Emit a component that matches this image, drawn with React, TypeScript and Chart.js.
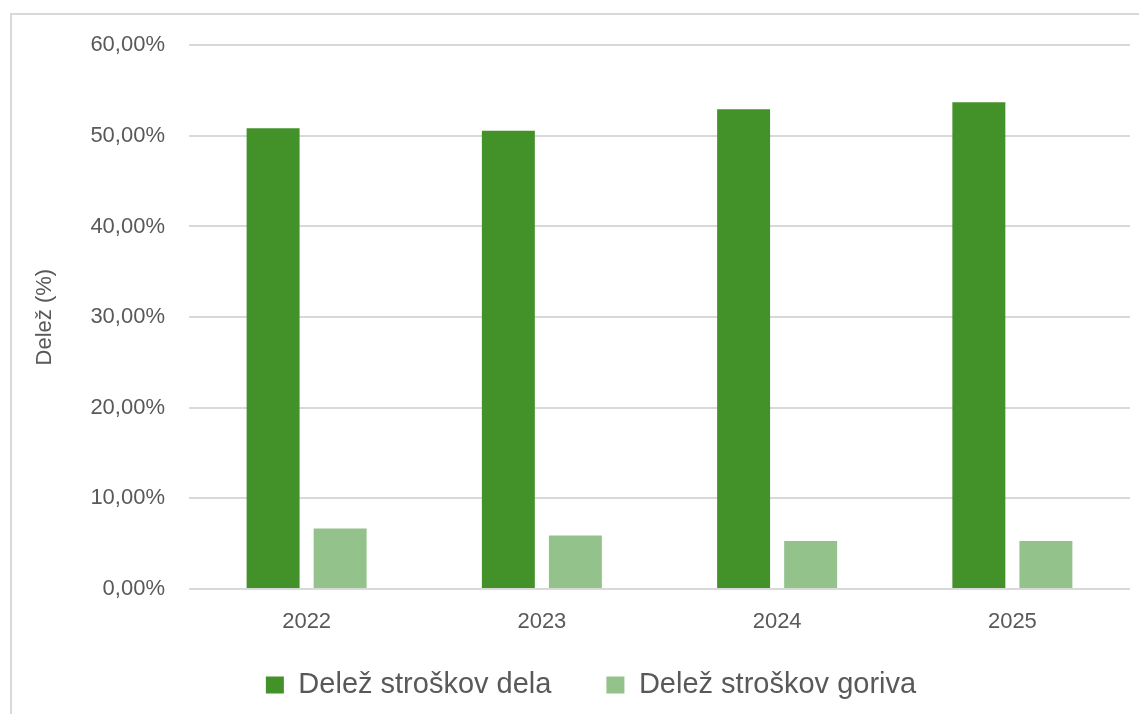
import React, { useEffect, useRef } from "react";
import { Chart, registerables } from "chart.js";

Chart.register(...registerables);

const categories = ["2022", "2023", "2024", "2025"];
const laborShare = [50.84, 50.57, 52.94, 53.71];
const fuelShare = [6.67, 5.9, 5.3, 5.3];
const seriesNames = ["Delež stroškov dela", "Delež stroškov goriva"];
const yTitle = "Delež (%)";

const TEXT = "#595959";
const GRID = "#d9d9d9";
const FONT = "'Liberation Sans', Arial, sans-serif";

export default function App() {
  const ref = useRef<HTMLCanvasElement | null>(null);

  useEffect(() => {
    if (!ref.current) return;
    const chart = new Chart(ref.current, {
      type: "bar",
      data: {
        labels: categories,
        datasets: [
          {
            label: seriesNames[0],
            data: laborShare,
            backgroundColor: "#439129",
            borderWidth: 0,
          },
          {
            label: seriesNames[1],
            data: fuelShare,
            backgroundColor: "#94c28b",
            borderWidth: 0,
          },
        ],
      },
      options: {
        animation: false,
        responsive: false,
        maintainAspectRatio: false,
        layout: { padding: { left: 44, right: 9, top: 37, bottom: 4.5 } },
        datasets: {
          bar: { categoryPercentage: 0.57, barPercentage: 0.79 },
        },
        plugins: {
          tooltip: { enabled: false },
          legend: {
            position: "bottom",
            align: "center",
            title: {
              display: true,
              text: "",
              font: { size: 1, lineHeight: 1 },
              padding: { top: 0, bottom: -21.5 },
            },
            labels: {
              color: TEXT,
              font: { family: FONT, size: 29 },
              boxWidth: 18,
              boxHeight: 17,
              padding: 55,
            },
          },
        },
        scales: {
          x: {
            grid: { display: false, drawTicks: false },
            border: { display: false },
            ticks: {
              color: TEXT,
              font: { family: FONT, size: 22 },
              padding: 20,
            },
            afterFit: (scale: any) => {
              scale.height = 47;
            },
          },
          y: {
            min: 0,
            max: 60,
            grid: { color: GRID, lineWidth: 2, drawTicks: false },
            border: { display: false },
            ticks: {
              stepSize: 10,
              color: TEXT,
              font: { family: FONT, size: 22 },
              padding: 24,
              callback: (v: any) => Number(v).toFixed(2).replace(".", ",") + "%",
            },
            title: {
              display: true,
              text: yTitle,
              color: TEXT,
              font: { family: FONT, size: 22 },
              padding: { top: -20, bottom: 0 },
            },
            afterFit: (scale: any) => {
              scale.width = 137;
            },
          },
        },
      } as any,
    });
    return () => chart.destroy();
  }, []);

  return (
    <div style={{ position: "relative", width: 1131, height: 706, overflow: "hidden", background: "#fff" }}>
      <div
        style={{
          position: "absolute",
          left: 2,
          top: 5,
          width: 1300,
          height: 900,
          borderLeft: "2px solid " + GRID,
          borderTop: "2px solid " + GRID,
        }}
      />
      <canvas
        ref={ref}
        width={1131}
        height={706}
        style={{ position: "absolute", left: 0, top: 0, width: 1131, height: 706 }}
      />
    </div>
  );
}
